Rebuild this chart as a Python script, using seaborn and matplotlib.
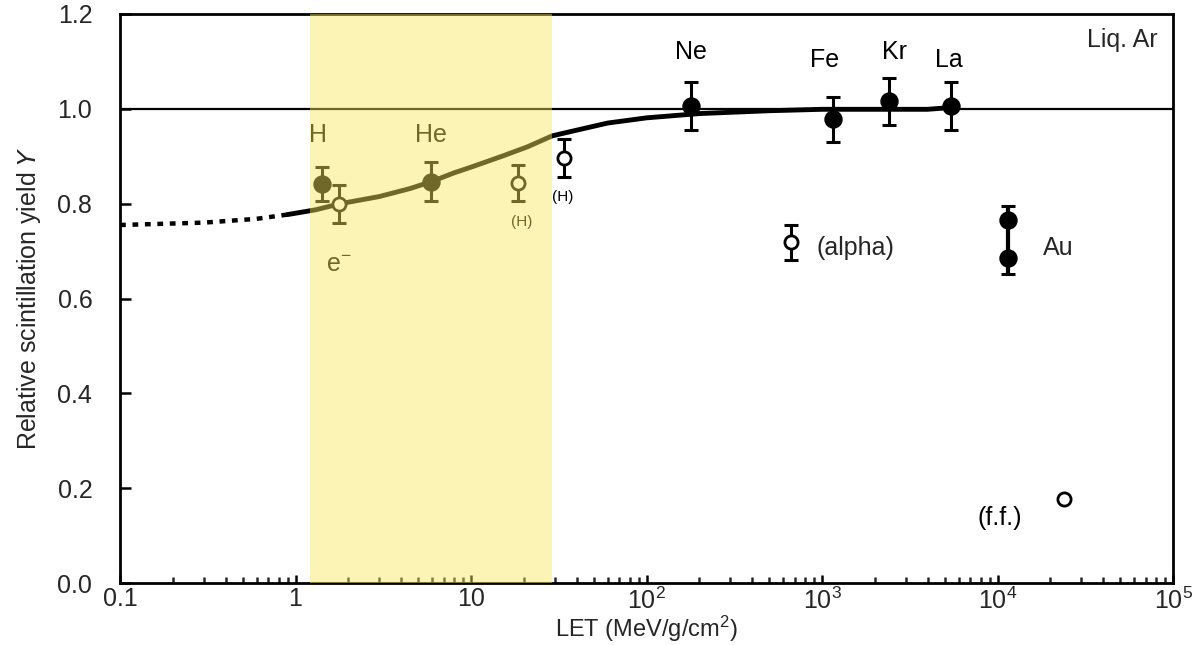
import numpy as np
import pandas as pd
import matplotlib
matplotlib.use("Agg")
import matplotlib.pyplot as plt
import seaborn as sns

# data
curve_x = [0.9, 1.3, 1.8, 3.0, 4.5, 5.9, 8.0, 10, 15, 21, 29, 40, 60, 100, 200, 500, 1000, 4000, 5500]
curve_y = [0.777, 0.787, 0.800, 0.815, 0.832, 0.846, 0.865, 0.877, 0.900, 0.920, 0.943, 0.955, 0.970, 0.981, 0.990, 0.996, 0.999, 0.999, 1.003]
dash_x = [0.1, 0.3, 0.6, 0.9]
dash_y = [0.755, 0.760, 0.768, 0.777]

filled_x = [1.42, 5.9, 179, 1157, 2400, 5430]
filled_y = [0.841, 0.846, 1.006, 0.978, 1.016, 1.006]
filled_err = [0.036, 0.041, 0.05, 0.048, 0.05, 0.05]

open_x = [1.77, 18.5, 33.9, 665]
open_y = [0.799, 0.843, 0.896, 0.719]
open_err = [0.04, 0.038, 0.04, 0.037]

au_x = 11500
au_y = [0.766, 0.685]
au_range = [0.652, 0.795]

ff_x = [23900]
ff_y = [0.177]

band = (1.21, 29)

sns.set_theme(style="ticks")
plt.rcParams["font.family"] = ["Liberation Sans", "DejaVu Sans"]
plt.rcParams["mathtext.default"] = "regular"

fig = plt.figure(figsize=(11.92, 6.45), dpi=100)
ax = fig.add_axes([0.1007, 0.0961, 0.8834, 0.8822])

ax.axhline(1.0, color="black", lw=1.6, zorder=1)

sns.lineplot(x=dash_x, y=dash_y, ax=ax, color="black", lw=3.2,
             linestyle=(0, (1.3, 1.5)), zorder=2)
sns.lineplot(x=curve_x, y=curve_y, ax=ax, color="black", lw=3.5, zorder=2,
             sort=False)

ax.errorbar(filled_x, filled_y, yerr=filled_err, fmt="none", ecolor="black",
            elinewidth=2.2, capsize=5, capthick=2.2, zorder=3)
ax.errorbar(open_x, open_y, yerr=open_err, fmt="none", ecolor="black",
            elinewidth=2.2, capsize=5, capthick=2.2, zorder=3)
au_mid = np.mean(au_range)
ax.errorbar([au_x], [au_mid], yerr=[[au_mid - au_range[0]], [au_range[1] - au_mid]],
            fmt="none", ecolor="black", elinewidth=3, capsize=5, capthick=2.2, zorder=3)

sns.scatterplot(x=filled_x, y=filled_y, ax=ax, color="black", s=150,
                edgecolor="black", zorder=4)
sns.scatterplot(x=[au_x, au_x], y=au_y, ax=ax, color="black", s=150,
                edgecolor="black", zorder=4)
sns.scatterplot(x=open_x + ff_x, y=open_y + ff_y, ax=ax, facecolor="white",
                edgecolor="black", linewidth=2, s=90, zorder=4)

# translucent yellow band drawn on top
ax.axvspan(band[0], band[1], color="#F9E759", alpha=0.45, lw=0, zorder=10)

fs = 18
labels = [
    ("H", 1.34, 0.945, fs), ("He", 5.9, 0.945, fs), ("e$^{-}$", 1.77, 0.67, fs),
    ("(H)", 19.5, 0.761, 11), ("(H)", 33.5, 0.814, 11),
    ("Ne", 179, 1.12, fs), ("Fe", 1040, 1.103, fs), ("Kr", 2600, 1.12, fs),
    ("La", 5300, 1.103, fs), ("(f.f.)", 10300, 0.137, fs),
]
for txt, x, y, s in labels:
    ax.text(x, y, txt, ha="center", va="center", fontsize=s, color="black", zorder=5)
ax.text(935, 0.706, "(alpha)", ha="left", va="center", fontsize=fs, zorder=5)
ax.text(18200, 0.706, "Au", ha="left", va="center", fontsize=fs, zorder=5)
ax.text(0.985, 0.955, "Liq. Ar", transform=ax.transAxes, ha="right",
        va="center", fontsize=fs, zorder=5)

ax.set_xscale("log")
ax.set_xlim(0.1, 1e5)
ax.set_ylim(0, 1.2)
ax.set_xticks([0.1, 1, 10, 100, 1000, 1e4, 1e5])
ax.set_xticklabels(["0.1", "1", "10", "$10^2$", "$10^3$", "$10^4$", "$10^5$"])
ax.set_yticks(np.arange(0, 1.21, 0.2))
ax.set_yticklabels([f"{v:.1f}" for v in np.arange(0, 1.21, 0.2)])
ax.tick_params(axis="both", direction="in", labelsize=fs, width=1.8, color="black")
ax.tick_params(axis="x", which="major", length=6, pad=3)
ax.tick_params(axis="x", which="minor", length=4, width=1.8, direction="in")
ax.tick_params(axis="y", which="major", length=8, pad=20)
ax.tick_params(axis="y", which="minor", left=False)

for sp in ax.spines.values():
    sp.set_linewidth(2)
    sp.set_color("black")
    sp.set_visible(True)

ax.set_xlabel("LET (MeV/g/cm$^2$)", fontsize=17, labelpad=0)
ax.set_ylabel("Relative scintillation yield $\\it{Y}$", fontsize=fs, labelpad=10)

fig.savefig("out.png", dpi=100)
